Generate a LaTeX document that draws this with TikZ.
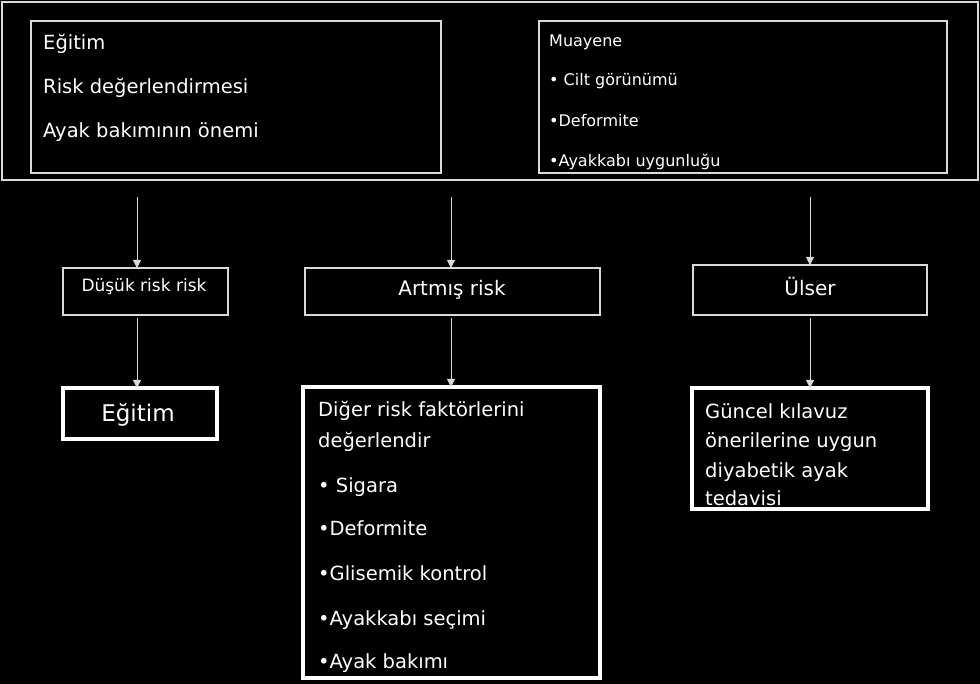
\documentclass[tikz,border=0pt]{standalone}
\usepackage{fontspec}
\setmainfont{DejaVu Sans}
\usetikzlibrary{arrows.meta}

\tikzset{%
	box/.style={
		rectangle,
		draw=white!85!black,
		line width=1.3pt,
		inner sep=0pt,
		outer sep=0pt
	},
	thick box/.style={box, draw=white, line width=4pt},
	txt/.style={text=white, inner sep=0pt, anchor=base west},
	arrow/.style={draw=white!85!black, line width=0.8pt, -{Triangle[width=8pt,length=8pt]}},
}

\begin{document}
\begin{tikzpicture}[x=1pt, y=-1pt]
\fill [black] (0,0) rectangle (980,684);
\useasboundingbox (0,0) rectangle (980,684);

% top row
\node [box, minimum width=976, minimum height=178] (top) at (490,91) {};
\node [box, minimum width=410, minimum height=152] (education) at (236,97) {};
\node [box, minimum width=408, minimum height=152] (exam) at (743,97) {};

\foreach \t [count=\i from 0] in {Eğitim, Risk değerlendirmesi, Ayak bakımının önemi}
\node [txt, font=\fontsize{19.5}{23}\selectfont] (education-\i) at (43, 50+44*\i) {\t};

\foreach \t/\y [count=\i] in {Muayene/47, • Cilt görünümü/86, •Deformite/127, •Ayakkabı uygunluğu/167}
\node [txt, font=\fontsize{16}{19}\selectfont] (exam-\i) at (549,\y) {\t};

% risk groups
\node [box, minimum width=165, minimum height=47] (dusuk) at (145.5,291.5) {};
\node [box, minimum width=295, minimum height=47] (artmis) at (452.5,291.5) {};
\node [box, minimum width=234, minimum height=50] (ulser) at (810,290) {};

\node [txt, anchor=base, font=\fontsize{17}{20}\selectfont] (dusuk-t) at (144,292) {Düşük risk risk};
\node [txt, anchor=base, font=\fontsize{20}{24}\selectfont] (artmis-t) at (452,296) {Artmış risk};
\node [txt, anchor=base, font=\fontsize{20}{24}\selectfont] (ulser-t) at (810,296) {Ülser};

% actions
\node [thick box, minimum width=154, minimum height=51] (egitim) at (140,413.5) {};
\node [thick box, minimum width=297, minimum height=291] (diger) at (451.5,532.5) {};
\node [thick box, minimum width=236, minimum height=121] (guncel) at (810,448.5) {};

\node [txt, anchor=base, font=\fontsize{23}{27}\selectfont] (egitim-t) at (138,421) {Eğitim};

\foreach \t/\y [count=\i] in {Diğer risk faktörlerini/417, değerlendir/447, • Sigara/492, •Deformite/535, •Glisemik kontrol/580, •Ayakkabı seçimi/625, •Ayak bakımı/668}
\node [txt, font=\fontsize{19.5}{23}\selectfont] (diger-\i) at (318,\y) {\t};

\foreach \t/\y [count=\i] in {Güncel kılavuz/418, önerilerine uygun/447, diyabetik ayak/477, tedavisi/505}
\node [txt, font=\fontsize{19.5}{23}\selectfont] (guncel-\i) at (705,\y) {\t};

% arrows
\foreach \x/\a/\b in {137/dusuk/egitim, 451/artmis/diger, 810/ulser/guncel}
{
	\coordinate (in-\a) at (\x,197);
	\draw [arrow] (in-\a) -- (in-\a |- \a.north);
	\draw [arrow, shorten <=3pt] (in-\a |- \a.south) -- (in-\a |- \b.north);
}

\end{tikzpicture}
\end{document}
